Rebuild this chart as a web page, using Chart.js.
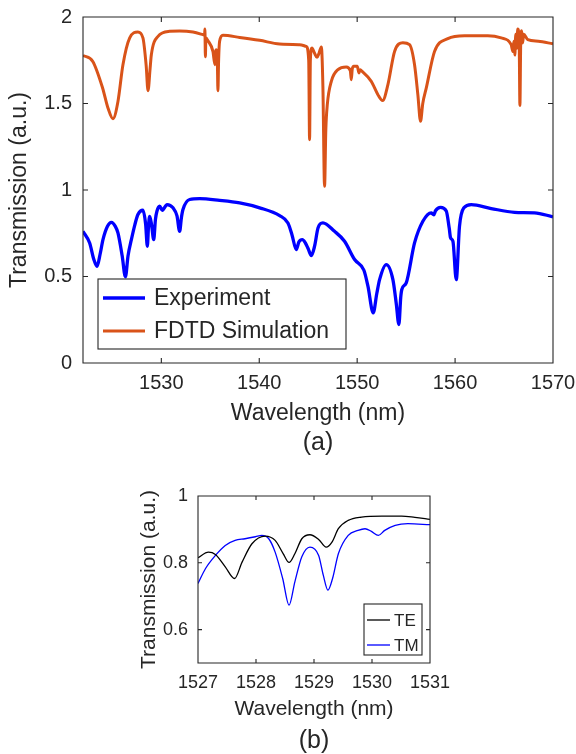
<!DOCTYPE html>
<html>
<head>
<meta charset="utf-8">
<script src="https://cdn.jsdelivr.net/npm/chart.js@4.4.1/dist/chart.umd.min.js"></script>
<style>
  html, body { margin: 0; padding: 0; background: #ffffff; }
  body { width: 576px; height: 754px; position: relative; overflow: hidden;
         font-family: "Liberation Sans", Arial, Helvetica, sans-serif; color: #262626; }
  canvas { position: absolute; left: 0; }
  .cap { position: absolute; left: 268px; width: 100px; text-align: center;
         font-size: 25px; line-height: 30px; }
</style>
</head>
<body>
<canvas id="spectrum" width="576" height="430" style="top:0"></canvas>
<div class="cap" style="top:426px">(a)</div>
<canvas id="polar" width="576" height="260" style="top:470px"></canvas>
<div class="cap" style="top:724px; left:264px">(b)</div>

<script>
// ---- (a) measured transmission vs. FDTD simulation ----
const expWavelength = [
  1522.0, 1522.68, 1523.1, 1523.43, 1523.75, 1524.04, 1524.5, 1524.9, 1525.3, 1525.57,
  1526.0, 1526.33, 1526.6, 1526.94, 1527.3, 1527.61, 1528.12, 1528.4, 1528.57, 1528.7,
  1528.81, 1529.0, 1529.22, 1529.4, 1529.55, 1529.83, 1530.1, 1530.58, 1531.19, 1531.6,
  1531.87, 1532.05, 1532.21, 1532.89, 1533.91, 1535.95, 1538.0, 1540.04, 1542.08, 1542.93,
  1543.34, 1543.78, 1544.05, 1544.4, 1544.7, 1545.0, 1545.32, 1545.65, 1546.0, 1546.5,
  1547.69, 1548.71, 1549.74, 1550.69, 1551.1, 1551.64, 1552.0, 1552.29, 1552.97, 1553.65,
  1554.0, 1554.26, 1554.45, 1554.56, 1555.01, 1555.86, 1556.71, 1557.56, 1557.83, 1558.0,
  1558.52, 1559.1, 1559.4, 1559.54, 1559.78, 1560.12, 1560.45, 1560.9, 1561.65, 1563.69,
  1566.07, 1568.11, 1570.0
];
const expTransmission = [
  0.761, 0.694, 0.600, 0.559, 0.630, 0.713, 0.790, 0.813, 0.790, 0.752,
  0.620, 0.498, 0.620, 0.713, 0.800, 0.858, 0.883, 0.800, 0.675, 0.800,
  0.848, 0.800, 0.713, 0.830, 0.877, 0.906, 0.883, 0.916, 0.897, 0.850,
  0.761, 0.840, 0.887, 0.945, 0.950, 0.940, 0.925, 0.897, 0.852, 0.809,
  0.742, 0.656, 0.700, 0.713, 0.695, 0.660, 0.621, 0.675, 0.780, 0.810,
  0.761, 0.704, 0.598, 0.536, 0.444, 0.290, 0.400, 0.482, 0.569, 0.482,
  0.340, 0.222, 0.380, 0.425, 0.463, 0.694, 0.819, 0.868, 0.857, 0.880,
  0.900, 0.879, 0.780, 0.723, 0.704, 0.482, 0.790, 0.897, 0.916, 0.893,
  0.871, 0.868, 0.845
];
const simWavelength = [
  1522.0, 1523.0, 1524.0, 1524.55, 1525.06, 1525.57, 1526.08, 1526.77, 1527.61, 1528.12,
  1528.45, 1528.64, 1528.85, 1528.98, 1529.66, 1530.85, 1531.87, 1533.23, 1534.25, 1534.42,
  1534.45, 1534.5, 1534.55, 1534.76, 1535.27, 1535.47, 1535.55, 1535.62, 1535.72, 1535.78,
  1535.85, 1535.95, 1536.29, 1538.0, 1540.04, 1542.08, 1544.12, 1544.8, 1545.05, 1545.14,
  1545.22, 1545.38, 1545.65, 1545.9, 1546.1, 1546.34, 1546.5, 1546.67, 1546.8, 1546.95,
  1547.36, 1548.04, 1548.89, 1549.3, 1549.4, 1549.5, 1549.66, 1550.01, 1550.18, 1550.3,
  1550.42, 1551.44, 1552.12, 1552.6, 1553.14, 1553.82, 1554.67, 1555.35, 1555.86, 1556.2,
  1556.47, 1556.7, 1557.06, 1557.9, 1559.26, 1560.96, 1563.34, 1564.71, 1565.73, 1565.9,
  1566.0, 1566.1, 1566.2, 1566.3, 1566.4, 1566.55, 1566.62, 1566.7, 1566.8, 1566.9,
  1567.0, 1567.43, 1568.5, 1570.0
];
const simTransmission = [
  1.778, 1.743, 1.590, 1.474, 1.412, 1.512, 1.724, 1.879, 1.913, 1.879,
  1.720, 1.574, 1.700, 1.782, 1.888, 1.917, 1.919, 1.913, 1.898, 1.895,
  1.930, 1.770, 1.880, 1.863, 1.801, 1.724, 1.800, 1.811, 1.750, 1.574,
  1.750, 1.859, 1.894, 1.882, 1.865, 1.844, 1.840, 1.830, 1.750, 1.291,
  1.750, 1.821, 1.790, 1.767, 1.790, 1.827, 1.600, 1.021, 1.350, 1.493,
  1.628, 1.696, 1.711, 1.690, 1.638, 1.700, 1.715, 1.715, 1.677, 1.695,
  1.690, 1.628, 1.551, 1.517, 1.609, 1.801, 1.851, 1.840, 1.724, 1.550,
  1.397, 1.500, 1.590, 1.801, 1.875, 1.892, 1.892, 1.879, 1.840, 1.800,
  1.860, 1.780, 1.900, 1.820, 1.930, 1.840, 1.489, 1.840, 1.920, 1.850,
  1.900, 1.869, 1.860, 1.845
];
const spectrumXTicks = [1530, 1540, 1550, 1560, 1570];
const spectrumYTicks = [0, 0.5, 1, 1.5, 2];

// ---- (b) TE / TM polarisation close-up ----
const teWavelength = [
  1527.0, 1527.18, 1527.3, 1527.47, 1527.63, 1527.76, 1527.93, 1528.16, 1528.33, 1528.47,
  1528.57, 1528.67, 1528.79, 1528.93, 1529.08, 1529.21, 1529.31, 1529.42, 1529.59, 1529.82,
  1530.17, 1530.51, 1530.74, 1531.0
];
const teTransmission = [
  0.815, 0.832, 0.825, 0.788, 0.753, 0.802, 0.857, 0.880, 0.867, 0.827,
  0.801, 0.827, 0.872, 0.884, 0.870, 0.847, 0.862, 0.902, 0.927, 0.937,
  0.940, 0.940, 0.936, 0.930
];
const tmWavelength = [
  1527.0, 1527.13, 1527.3, 1527.47, 1527.64, 1527.81, 1527.99, 1528.1, 1528.22, 1528.33,
  1528.46, 1528.57, 1528.67, 1528.79, 1528.93, 1529.08, 1529.16, 1529.24, 1529.32, 1529.42,
  1529.59, 1529.76, 1529.88, 1529.99, 1530.11, 1530.22, 1530.4, 1530.62, 1531.0
];
const tmTransmission = [
  0.738, 0.783, 0.822, 0.852, 0.867, 0.872, 0.878, 0.882, 0.872, 0.832,
  0.753, 0.673, 0.743, 0.818, 0.847, 0.822, 0.763, 0.718, 0.753, 0.827,
  0.882, 0.897, 0.902, 0.894, 0.882, 0.897, 0.912, 0.917, 0.914
];
const polarXTicks = [1527, 1528, 1529, 1530, 1531];
const polarYTicks = [0.6, 0.8, 1];

const INK = '#262626';
const FONT = '"Liberation Sans", Arial, Helvetica, sans-serif';

function pairs(xs, ys) { return xs.map((x, i) => ({ x: x, y: ys[i] })); }

// Box around the plot area with inward-pointing tick marks on every side.
const boxFrame = {
  id: 'boxFrame',
  afterDatasetsDraw(chart, args, opts) {
    const { ctx, chartArea: a, scales } = chart;
    const L = opts.tickLen;
    ctx.save();
    ctx.strokeStyle = INK;
    ctx.lineWidth = 1.1;
    ctx.beginPath();
    ctx.rect(a.left, a.top, a.right - a.left, a.bottom - a.top);
    scales.x.ticks.forEach(t => {
      const px = scales.x.getPixelForValue(t.value);
      ctx.moveTo(px, a.bottom); ctx.lineTo(px, a.bottom - L);
      ctx.moveTo(px, a.top); ctx.lineTo(px, a.top + L);
    });
    scales.y.ticks.forEach(t => {
      const py = scales.y.getPixelForValue(t.value);
      ctx.moveTo(a.left, py); ctx.lineTo(a.left + L, py);
      ctx.moveTo(a.right, py); ctx.lineTo(a.right - L, py);
    });
    ctx.stroke();
    ctx.restore();
  }
};

// Legend drawn inside the axes, framed like the axes box.
const insetLegend = {
  id: 'insetLegend',
  afterDraw(chart, args, o) {
    const ctx = chart.ctx;
    ctx.save();
    ctx.fillStyle = '#ffffff';
    ctx.fillRect(o.x, o.y, o.w, o.h);
    ctx.strokeStyle = INK;
    ctx.lineWidth = 1.1;
    ctx.strokeRect(o.x, o.y, o.w, o.h);
    ctx.font = o.fontSize + 'px ' + FONT;
    ctx.textBaseline = 'middle';
    ctx.textAlign = 'left';
    chart.data.datasets.forEach((ds, i) => {
      const yy = o.rows[i];
      ctx.strokeStyle = ds.borderColor;
      ctx.lineWidth = ds.borderWidth;
      ctx.beginPath();
      ctx.moveTo(o.lineX1, yy); ctx.lineTo(o.lineX2, yy);
      ctx.stroke();
      ctx.fillStyle = INK;
      ctx.fillText(ds.label, o.textX, yy + 1);
    });
    ctx.restore();
  }
};

// titleGap: distance between the axis title and the outer edge of the scale box
function axis(min, max, tickList, tickSize, tickPad, title, titleSize, titleGap, fitSize, horizontal) {
  return {
    type: 'linear',
    min: min, max: max,
    afterBuildTicks: s => { s.ticks = tickList.map(v => ({ value: v })); },
    afterFit: s => {
      if (horizontal) s.height = fitSize; else s.width = fitSize;
      // end labels may overhang the plot edges; the page margins leave room for them
      s.paddingLeft = 0; s.paddingRight = 0; s.paddingTop = 0; s.paddingBottom = 0;
    },
    grid: { display: false, drawTicks: false },
    border: { display: false },
    ticks: {
      color: INK, padding: tickPad, maxRotation: 0, autoSkip: false,
      font: { family: FONT, size: tickSize },
      callback: v => String(v)
    },
    title: {
      display: true, text: title, color: INK,
      font: { family: FONT, size: titleSize },
      padding: horizontal ? { top: 0, bottom: titleGap } : { top: titleGap, bottom: 0 }
    }
  };
}

Chart.register(boxFrame, insetLegend);

new Chart(document.getElementById('spectrum'), {
  type: 'line',
  data: {
    datasets: [
      { label: 'Experiment', data: pairs(expWavelength, expTransmission),
        borderColor: '#0000ff', borderWidth: 3.3, pointRadius: 0,
        cubicInterpolationMode: 'monotone' },
      { label: 'FDTD Simulation', data: pairs(simWavelength, simTransmission),
        borderColor: '#d95319', borderWidth: 3, pointRadius: 0,
        cubicInterpolationMode: 'monotone' }
    ]
  },
  options: {
    responsive: false, animation: false, devicePixelRatio: 1,
    layout: { padding: { left: 0, top: 17, right: 23, bottom: 0 } },
    scales: {
      x: axis(1522, 1570, spectrumXTicks, 20, 8, 'Wavelength (nm)', 23, 3, 67, true),
      y: axis(0, 2, spectrumYTicks, 20, 11, 'Transmission (a.u.)', 23, 6, 83, false)
    },
    plugins: {
      legend: { display: false },
      tooltip: { enabled: false },
      boxFrame: { tickLen: 5 },
      insetLegend: { x: 98, y: 279, w: 248, h: 70, rows: [298, 331],
                     lineX1: 103, lineX2: 145, textX: 154, fontSize: 23 }
    }
  }
});

new Chart(document.getElementById('polar'), {
  type: 'line',
  data: {
    datasets: [
      { label: 'TE', data: pairs(teWavelength, teTransmission),
        borderColor: '#000000', borderWidth: 1.3, pointRadius: 0,
        cubicInterpolationMode: 'monotone' },
      { label: 'TM', data: pairs(tmWavelength, tmTransmission),
        borderColor: '#0000ff', borderWidth: 1.3, pointRadius: 0,
        cubicInterpolationMode: 'monotone' }
    ]
  },
  options: {
    responsive: false, animation: false, devicePixelRatio: 1,
    layout: { padding: { left: 128, top: 26, right: 146, bottom: 0 } },
    scales: {
      x: axis(1527, 1531, polarXTicks, 18, 9, 'Wavelength (nm)', 21, 8, 67, true),
      y: axis(0.5, 1, polarYTicks, 18, 10, 'Transmission (a.u.)', 21, 9, 70, false)
    },
    plugins: {
      legend: { display: false },
      tooltip: { enabled: false },
      boxFrame: { tickLen: 4 },
      insetLegend: { x: 364, y: 134, w: 58, h: 51, rows: [150, 175],
                     lineX1: 367, lineX2: 390, textX: 394, fontSize: 17 }
    }
  }
});
</script>
</body>
</html>
